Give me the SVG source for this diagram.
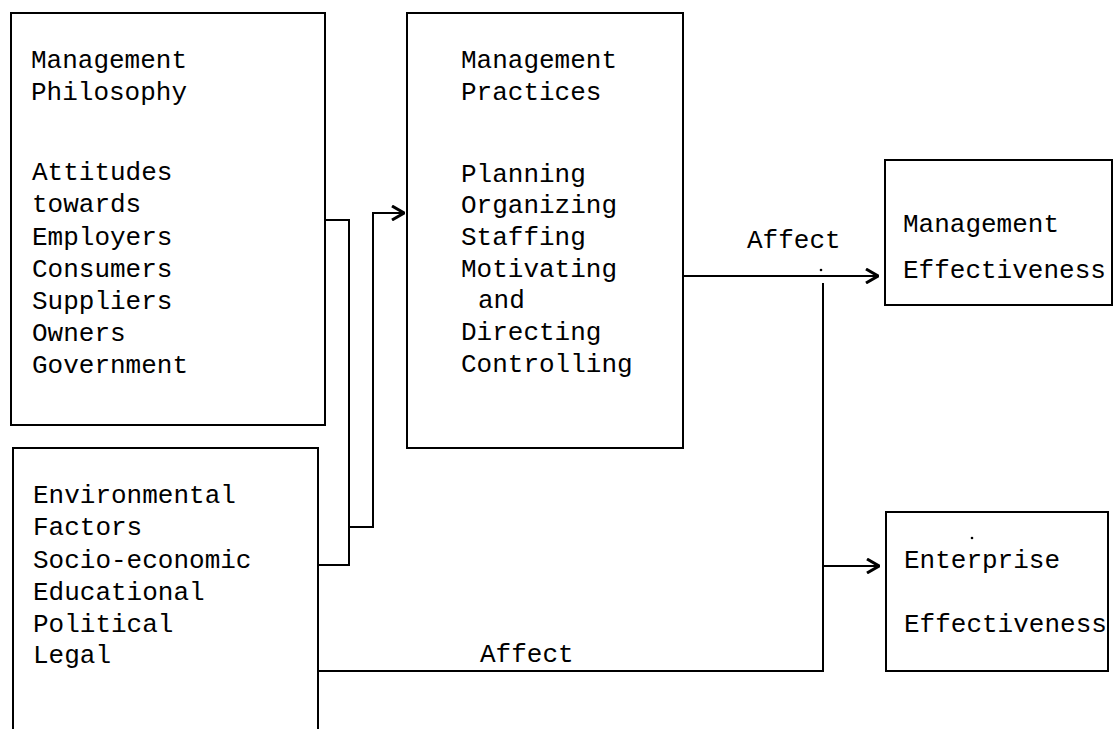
<svg xmlns="http://www.w3.org/2000/svg" width="1115" height="729" viewBox="0 0 1115 729">
<style>
.box{fill:none;stroke:#000;stroke-width:2}
.ln{fill:none;stroke:#000;stroke-width:2}
text{font-family:"Liberation Mono","DejaVu Sans Mono",monospace;font-size:26px;fill:#000}
</style>
<defs>
<marker id="arr" viewBox="0 0 14 16" refX="13" refY="8" markerWidth="14" markerHeight="16" markerUnits="userSpaceOnUse" orient="auto">
<path d="M1,1 L13,8 L1,15" fill="none" stroke="#000" stroke-width="3"/>
</marker>
</defs>
<rect width="1115" height="729" fill="#fff"/>
<g id="philosophy">
<rect class="box" x="11" y="13" width="314" height="412"/>
<text x="31" y="68">Management</text>
<text x="31" y="100">Philosophy</text>
<text x="32" y="180">Attitudes</text>
<text x="32" y="212">towards</text>
<text x="32" y="245">Employers</text>
<text x="32" y="277">Consumers</text>
<text x="32" y="309">Suppliers</text>
<text x="32" y="341">Owners</text>
<text x="32" y="373">Government</text>
</g>
<g id="practices">
<rect class="box" x="407" y="13" width="276" height="435"/>
<text x="461" y="68">Management</text>
<text x="461" y="100">Practices</text>
<text x="461" y="182">Planning</text>
<text x="461" y="213">Organizing</text>
<text x="461" y="245">Staffing</text>
<text x="461" y="277">Motivating</text>
<text x="478" y="308">and</text>
<text x="461" y="340">Directing</text>
<text x="461" y="372">Controlling</text>
</g>
<g id="environment">
<path class="box" d="M13,732 L13,448 L318,448 L318,732"/>
<text x="33" y="503">Environmental</text>
<text x="33" y="535">Factors</text>
<text x="33" y="568">Socio-economic</text>
<text x="33" y="600">Educational</text>
<text x="33" y="632">Political</text>
<text x="33" y="663">Legal</text>
</g>
<g id="mgmt-effectiveness">
<rect class="box" x="885" y="160" width="227" height="145"/>
<text x="903" y="232">Management</text>
<text x="903" y="278">Effectiveness</text>
</g>
<g id="enterprise-effectiveness">
<rect class="box" x="886" y="512" width="222" height="159"/>
<text x="904" y="568">Enterprise</text>
<text x="904" y="632">Effectiveness</text>
</g>
<g id="connectors">
<path class="ln" d="M325,220 L349,220 L349,565 L318,565"/>
<path class="ln" d="M349,527 L373,527 L373,213 L404,213" marker-end="url(#arr)"/>
<path class="ln" d="M683,276 L878,276" marker-end="url(#arr)"/>
<path class="ln" d="M318,671 L823,671 L823,283"/>
<path class="ln" d="M823,566 L879,566" marker-end="url(#arr)"/>
<circle cx="821" cy="270" r="1.3" fill="#000"/>
<circle cx="972" cy="538" r="1.3" fill="#000"/>
<text x="747" y="248">Affect</text>
<text x="480" y="662">Affect</text>
</g>
</svg>
